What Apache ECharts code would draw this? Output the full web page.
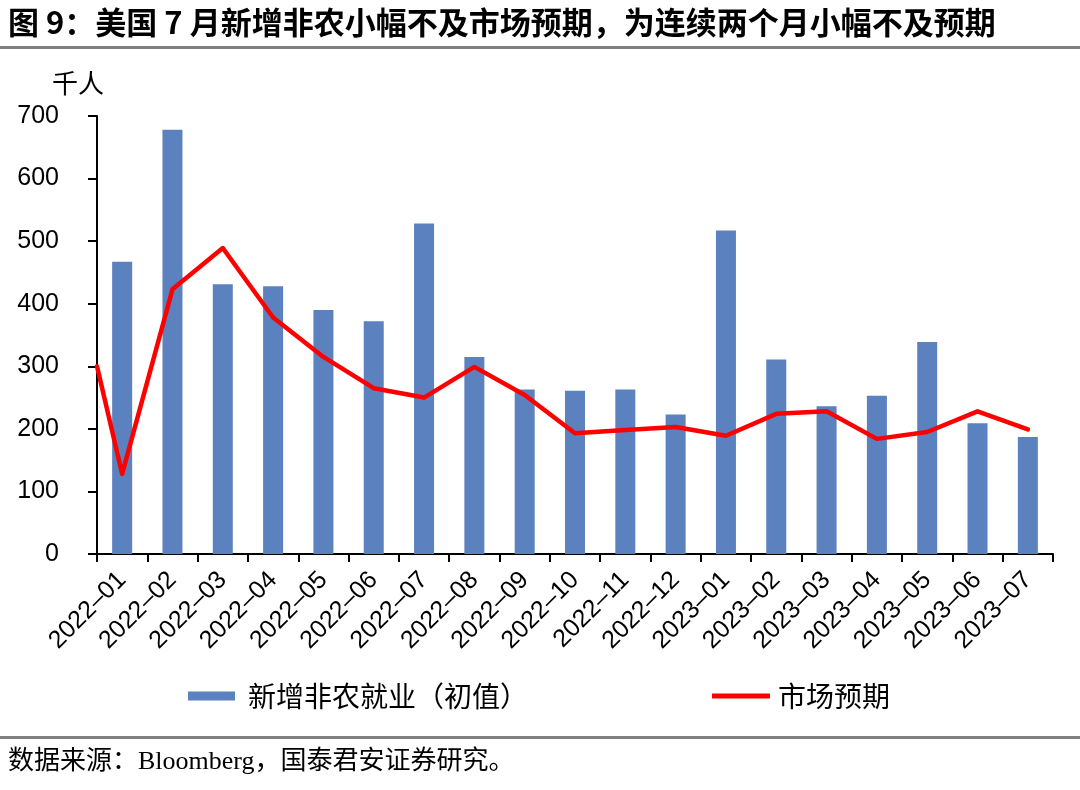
<!DOCTYPE html>
<html>
<head>
<meta charset="utf-8">
<script src="https://cdn.jsdelivr.net/npm/echarts@6/dist/echarts.min.js"></script>
<style>html,body{margin:0;padding:0;background:#fff;}#c{width:1080px;height:790px;}</style>
</head>
<body>
<div id="c"></div>
<script>
const categories = ['2022–01','2022–02','2022–03','2022–04','2022–05','2022–06','2022–07','2022–08','2022–09','2022–10','2022–11','2022–12','2023–01','2023–02','2023–03','2023–04','2023–05','2023–06','2023–07'];
const payrolls = [467, 678, 431, 428, 390, 372, 528, 315, 263, 261, 263, 223, 517, 311, 236, 253, 339, 209, 187];
const expectStart = 300;
const expectation = [128, 423, 489, 378, 315, 265, 250, 299, 254, 193, 198, 203, 189, 224, 228, 184, 195, 228, 199];
const yTicks = {min: 0, max: 700, interval: 100};
const titleText = '图 9：美国 7 月新增非农小幅不及市场预期，为连续两个月小幅不及预期';
const sourceText = '数据来源：Bloomberg，国泰君安证券研究。';
const unitText = '千人';
const seriesNames = ['新增非农就业（初值）', '市场预期'];

const lineData = [[-0.5, expectStart]].concat(expectation.map((v, i) => [i, v]));

const chart = echarts.init(document.getElementById('c'), null, {renderer: 'canvas'});
const cjk = '"Noto Sans CJK SC", sans-serif';
chart.setOption({
  animation: false,
  backgroundColor: '#fff',
  title: {
    text: titleText, left: 3, top: 2, padding: 5,
    textStyle: {fontFamily: cjk, fontSize: 31, fontWeight: 'bold', color: '#000'}
  },
  graphic: [
    {type: 'rect', shape: {x: 0, y: 46, width: 1080, height: 3}, style: {fill: '#808080'}},
    {type: 'rect', shape: {x: 0, y: 736, width: 1080, height: 3}, style: {fill: '#808080'}},
    {type: 'text', left: 52, top: 70, style: {text: unitText, font: '26px "Noto Sans CJK SC"', fill: '#000'}},
    {type: 'text', left: 8, top: 749, style: {text: sourceText, font: '26px "Liberation Serif", "Noto Sans CJK SC"', fill: '#000'}}
  ],
  legend: [
    {data: [seriesNames[0]], left: 188, top: 682, padding: 0, itemWidth: 47, itemHeight: 9, icon: 'rect',
     textStyle: {fontFamily: cjk, fontSize: 28, color: '#000', padding: [0,0,0,8]}},
    {data: [seriesNames[1]], left: 712, top: 682, padding: 0, itemWidth: 58, itemHeight: 5, icon: 'rect',
     textStyle: {fontFamily: cjk, fontSize: 28, color: '#000', padding: [0,0,0,3]}}
  ],
  grid: {left: 97, right: 27, top: 116, bottom: 236, containLabel: false},
  xAxis: [
    {type: 'category', data: categories, boundaryGap: true,
     axisLine: {lineStyle: {color: '#000', width: 2}},
     axisTick: {show: true, alignWithLabel: false, length: 8, lineStyle: {color: '#000', width: 2}},
     axisLabel: {rotate: 45, fontSize: 25, fontFamily: '"Liberation Sans", sans-serif', color: '#000', margin: 22, interval: 0},
     splitLine: {show: false}},
    {type: 'value', min: -0.5, max: 18.5, show: false}
  ],
  yAxis: {
    type: 'value', min: yTicks.min, max: yTicks.max, interval: yTicks.interval,
    axisLine: {show: true, onZero: false, lineStyle: {color: '#000', width: 2}},
    axisTick: {show: true, length: 9, lineStyle: {color: '#000', width: 2}},
    axisLabel: {fontSize: 25, fontFamily: '"Liberation Sans", sans-serif', color: '#000', margin: 38},
    splitLine: {show: false}
  },
  series: [
    {name: seriesNames[0], type: 'bar', data: payrolls, barWidth: 20, xAxisIndex: 0,
     itemStyle: {color: '#5b81bf'}},
    {name: seriesNames[1], type: 'line', data: lineData, xAxisIndex: 1, symbol: 'none',
     itemStyle: {color: '#ff0000'},
     lineStyle: {color: '#ff0000', width: 4.5, join: 'round', cap: 'round'}}
  ]
});
</script>
</body>
</html>
